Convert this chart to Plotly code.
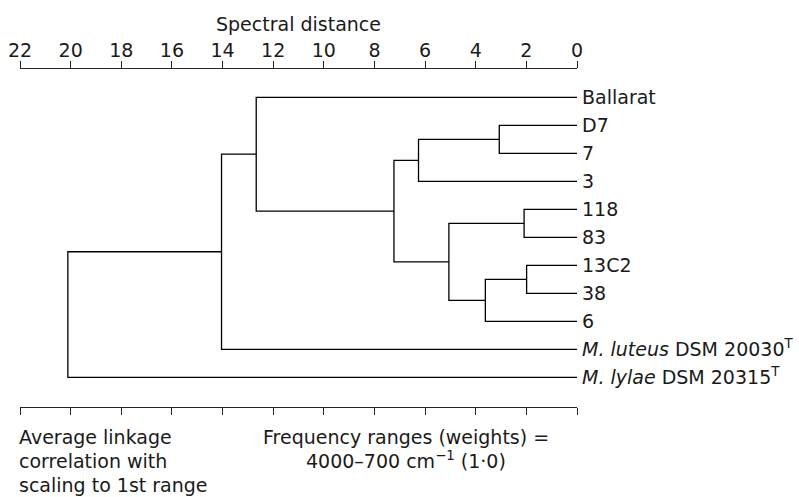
import plotly.graph_objects as go

# ---- data ----
leaf_labels = ["Ballarat", "D7", "7", "3", "118", "83", "13C2", "38", "6",
               "<i>M. luteus</i> DSM 20030<sup>T</sup>",
               "<i>M. lylae</i> DSM 20315<sup>T</sup>"]
# merges: node ids 0..10 are leaves, new nodes numbered from 11 upward
merge_left = [1, 11, 4, 6, 14, 13, 12, 0, 18, 19]
merge_right = [2, 3, 5, 7, 8, 15, 16, 17, 9, 10]
merge_height = [3.07, 6.26, 2.09, 1.99, 3.62, 5.06, 7.23, 12.67, 14.04, 20.11]
tick_values = list(range(0, 23, 2))

FONT = "DejaVu Sans"
FS = 19
TXT = "#1a1a1a"

n = len(leaf_labels)
node_y = {i: float(i) for i in range(n)}
node_h = {i: 0.0 for i in range(n)}
for k, (a, b, h) in enumerate(zip(merge_left, merge_right, merge_height)):
    nid = n + k
    node_y[nid] = (node_y[a] + node_y[b]) / 2
    node_h[nid] = h

xs, ys = [], []
for k, (a, b, h) in enumerate(zip(merge_left, merge_right, merge_height)):
    xs += [node_h[a], h, h, node_h[b], None]
    ys += [node_y[a], node_y[a], node_y[b], node_y[b], None]

fig = go.Figure()
fig.add_trace(go.Scatter(x=xs, y=ys, mode="lines",
                         line=dict(color="black", width=1.3),
                         hoverinfo="skip", showlegend=False))

top_px, bot_px = 69, 407
ph = bot_px - top_px

fig.update_layout(
    width=799, height=497,
    margin=dict(l=20, r=222, t=top_px, b=497 - bot_px, pad=0, autoexpand=False),
    paper_bgcolor="white", plot_bgcolor="white",
    font=dict(family=FONT, size=FS, color=TXT),
    showlegend=False,
    xaxis=dict(range=[22, 0], side="top", tickvals=tick_values, automargin=False,
               showline=True, linecolor="#222", linewidth=1.2,
               mirror="ticks", ticks="outside", ticklen=7, tickwidth=1.2,
               tickcolor="#222", showgrid=False, zeroline=False,
               ticklabelstandoff=-4,
               tickfont=dict(size=FS, family=FONT, color=TXT)),
    yaxis=dict(range=[11.06, -1.01], side="right", tickvals=list(range(n)),
               automargin=False,
               ticktext=leaf_labels, showline=False, ticks="",
               showgrid=False, zeroline=False, ticklabelstandoff=4,
               tickfont=dict(size=FS, family=FONT, color=TXT)),
)

def py(p):
    return (bot_px - p) / ph

def px(p):
    return (p - 20) / 557

ann = [
    dict(text="Spectral distance", x=0.5, y=py(24), xanchor="center"),
    dict(text="Average linkage", x=px(17), y=py(437), xanchor="left"),
    dict(text="correlation with", x=px(17), y=py(461), xanchor="left"),
    dict(text="scaling to 1st range", x=px(17), y=py(485), xanchor="left"),
    dict(text="Frequency ranges (weights) =", x=px(406), y=py(437), xanchor="center"),
    dict(text="4000–700 cm<sup>−1</sup> (1·0)", x=px(406), y=py(460), xanchor="center"),
]
for a in ann:
    fig.add_annotation(xref="paper", yref="paper", yanchor="middle",
                       showarrow=False, font=dict(size=FS, family=FONT, color=TXT), **a)

fig.write_html("out.html", config={"displayModeBar": False},
               post_script="document.body.style.margin='0';document.body.style.overflow='hidden';")
